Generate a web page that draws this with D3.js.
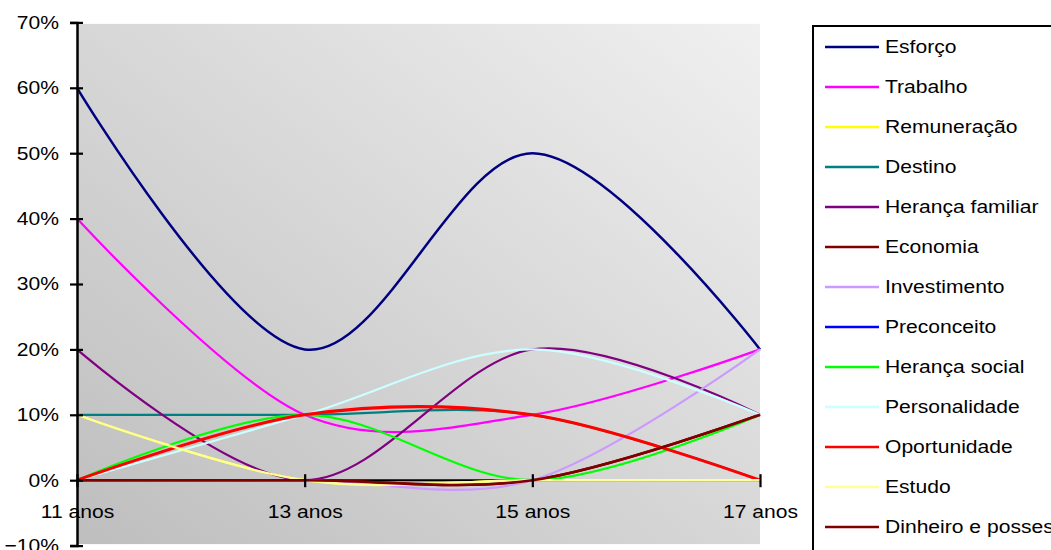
<!DOCTYPE html>
<html>
<head>
<meta charset="utf-8">
<script src="https://cdn.jsdelivr.net/npm/d3@7"></script>
<style>
html,body{margin:0;padding:0;background:#fff;}
svg{display:block;font-family:"Liberation Sans",Arial,sans-serif;}
</style>
</head>
<body>
<svg id="chart" width="1051" height="550"></svg>
<script>
const categories = ["11 anos", "13 anos", "15 anos", "17 anos"];
const yTicks = [-0.1, 0, 0.1, 0.2, 0.3, 0.4, 0.5, 0.6, 0.7];

const seriesNames = ["Esforço","Trabalho","Remuneração","Destino","Herança familiar","Economia","Investimento","Preconceito","Herança social","Personalidade","Oportunidade","Estudo","Dinheiro e posses"];
const seriesColors = ["#000080","#FF00FF","#FFFF00","#008080","#800080","#800000","#CC99FF","#0000FF","#00FF00","#CCFFFF","#FF0000","#FFFF99","#800000"];

const esforco      = [0.60, 0.20, 0.50, 0.20];
const trabalho     = [0.40, 0.10, 0.10, 0.20];
const remuneracao  = [0.10, 0.00, 0.00, 0.00];
const destino      = [0.10, 0.10, 0.10, 0.00];
const herancaFam   = [0.20, 0.00, 0.20, 0.10];
const economia     = [0.00, 0.00, 0.00, 0.10];
const investimento = [0.00, 0.00, 0.00, 0.20];
const preconceito  = [null, null, null, null];
const herancaSoc   = [0.00, 0.10, 0.00, 0.10];
const personalid   = [0.00, 0.10, 0.20, 0.10];
const oportunidade = [0.00, 0.10, 0.10, 0.00];
const estudo       = [0.10, 0.00, 0.00, 0.00];
const dinheiro     = [0.00, 0.00, 0.00, 0.10];

const seriesValues = [esforco, trabalho, remuneracao, destino, herancaFam, economia, investimento, preconceito, herancaSoc, personalid, oportunidade, estudo, dinheiro];

const series = seriesNames.map((n, i) => ({name: n, color: seriesColors[i], values: seriesValues[i]}));

const svg = d3.select("#chart");
const pLeft = 77, pRight = 760, pTop = 22.4, pBottom = 545.6;
const SX = 1.14; // horizontal text stretch
const FS = "18.5px";

const x = d3.scalePoint().domain(categories).range([pLeft, pRight]);
const y = d3.scaleLinear().domain([-0.1, 0.7]).range([pBottom, pTop]);

// background gradient
const defs = svg.append("defs");
const grad = defs.append("linearGradient").attr("id", "bg")
  .attr("x1", 0).attr("y1", 1).attr("x2", 1).attr("y2", 0);
grad.append("stop").attr("offset", "0%").attr("stop-color", "#bebebe");
grad.append("stop").attr("offset", "100%").attr("stop-color", "#f0f0f0");

svg.append("rect").attr("x", pLeft).attr("y", pTop + 1.5)
  .attr("width", pRight - pLeft).attr("height", pBottom - pTop - 3)
  .attr("fill", "url(#bg)");

// x axis baseline (under series)
svg.append("line").attr("x1", pLeft).attr("x2", pRight)
  .attr("y1", y(0)).attr("y2", y(0))
  .attr("stroke", "#000").attr("stroke-width", 2);

// series
const line = d3.line()
  .defined(d => d.v !== null)
  .x(d => x(d.c))
  .y(d => y(d.v))
  .curve(d3.curveCardinal.tension(0));

series.forEach(s => {
  const pts = categories.map((c, i) => ({c: c, v: s.values[i]}));
  svg.append("path")
    .attr("d", line(pts))
    .attr("fill", "none")
    .attr("stroke", s.color)
    .attr("stroke-width", s.name === "Oportunidade" ? 3 : (s.color === "#800000" ? 2.6 : (s.name === "Esforço" ? 2.5 : 2.2)))
    .attr("stroke-linejoin", "round");
});

// y axis
const yAxis = d3.axisLeft(y).tickValues(yTicks).tickFormat(d3.format(".0%")).tickSize(7).tickPadding(9);
const ya = svg.append("g").attr("transform", `translate(${pLeft},0)`).call(yAxis);
ya.select(".domain").attr("stroke", "#000").attr("stroke-width", 2.5);
ya.selectAll(".tick line").attr("x1", 6).attr("x2", -7).attr("stroke", "#000").attr("stroke-width", 2.2);
ya.selectAll(".tick text").attr("font-size", FS).attr("fill", "#000")
  .attr("font-family", "Liberation Sans, Arial, sans-serif")
  .attr("x", -18 / SX).attr("transform", `scale(${SX},1)`);

// x axis ticks & labels
const xAxis = d3.axisBottom(x).tickSize(7);
const xa = svg.append("g").attr("transform", `translate(0,${y(0)})`).call(xAxis);
xa.select(".domain").remove();
xa.selectAll(".tick line").attr("y1", -6).attr("y2", 7).attr("stroke", "#000").attr("stroke-width", 2.2);
xa.selectAll(".tick text").attr("y", 38).attr("dy", 0).attr("font-size", FS).attr("fill", "#000")
  .attr("font-family", "Liberation Sans, Arial, sans-serif")
  .attr("transform", `scale(${SX},1)`);

// legend
const lg = svg.append("g");
lg.append("rect").attr("x", 813).attr("y", 26).attr("width", 260).attr("height", 560)
  .attr("fill", "#fff").attr("stroke", "#000").attr("stroke-width", 2);
series.forEach((s, i) => {
  const cy = 47 + i * 40;
  lg.append("line").attr("x1", 825).attr("x2", 879).attr("y1", cy).attr("y2", cy)
    .attr("stroke", s.color).attr("stroke-width", 2.5);
  lg.append("text").attr("transform", `translate(885,${cy}) scale(${SX},1)`).attr("dy", "0.35em")
    .attr("font-size", FS).attr("fill", "#000").text(s.name);
});
</script>
</body>
</html>
